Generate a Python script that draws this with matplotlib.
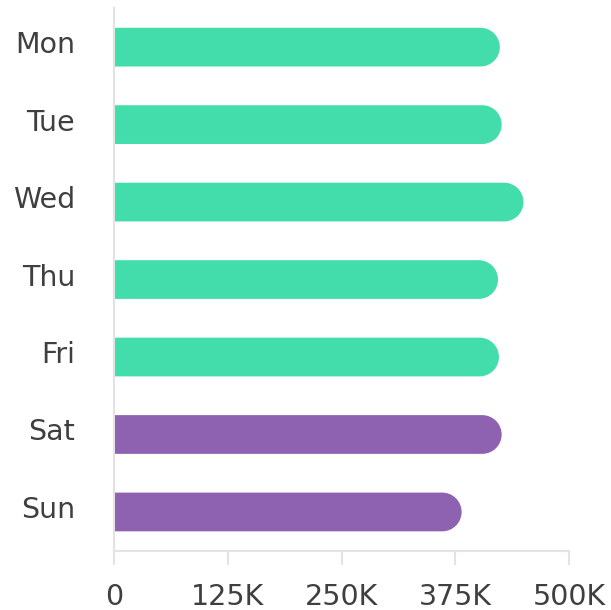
import matplotlib
matplotlib.use("Agg")
import numpy as np
import matplotlib.pyplot as plt
from matplotlib.patches import PathPatch
from matplotlib.path import Path
from matplotlib.transforms import ScaledTranslation, Affine2D

days = ["Mon", "Tue", "Wed", "Thu", "Fri", "Sat", "Sun"]
values = [424000, 426000, 450000, 422000, 423000, 426000, 382000]
colors = ["#43DDAC"] * 5 + ["#8E62B0"] * 2
xticks = [0, 125000, 250000, 375000, 500000]
xticklabels = ["0", "125K", "250K", "375K", "500K"]

W, H = 611, 610
fig = plt.figure(figsize=(W / 100, H / 100), dpi=100)
left, right, top, bottom = 114, 569, 8.4, 550.7
ax = fig.add_axes([left / W, 1 - bottom / H, (right - left) / W, (bottom - top) / H])

ax.set_xlim(0, 500000)
ax.set_ylim(6.5, -0.5)

bar_h = 0.5
ax_w_px = right - left
ax_h_px = bottom - top
r_px = bar_h / 2 * ax_h_px / 7
r_data = r_px * 500000 / ax_w_px

for i, (v, c) in enumerate(zip(values, colors)):
    arc = Path.arc(-90, 90).transformed(
        Affine2D().scale(r_data, bar_h / 2).translate(v - r_data, i))
    verts = np.vstack([[[0, i - bar_h / 2]], arc.vertices,
                       [[0, i + bar_h / 2], [0, i - bar_h / 2]]])
    codes = ([Path.MOVETO] + [Path.LINETO] + list(arc.codes[1:])
             + [Path.LINETO, Path.CLOSEPOLY])
    shape = Path(verts, codes)
    ax.add_patch(PathPatch(shape, facecolor=c, edgecolor="none", linewidth=0, zorder=2))

ax.set_yticks(range(len(days)))
ax.set_yticklabels(days)
ax.set_xticks(xticks)
ax.set_xticklabels(xticklabels)

for s in ["top", "right"]:
    ax.spines[s].set_visible(False)
for s in ["left", "bottom"]:
    ax.spines[s].set_color("#e3e3e3")
    ax.spines[s].set_linewidth(1.5)
    ax.spines[s].set_zorder(3)

ax.tick_params(axis="y", length=0, pad=28, labelsize=20.5, labelcolor="#3f3f3f")
ax.tick_params(axis="x", length=10, width=1.5, color="#e3e3e3", pad=13,
               labelsize=20.5, labelcolor="#3f3f3f")

off = ScaledTranslation(0, 5 / 100, fig.dpi_scale_trans)
for lab in ax.get_yticklabels():
    lab.set_transform(lab.get_transform() + off)

fig.savefig("out.png", dpi=100)
